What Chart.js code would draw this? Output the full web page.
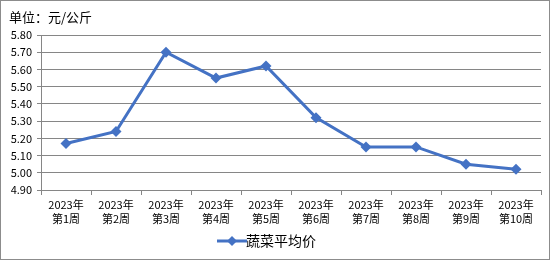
<!DOCTYPE html>
<html><head><meta charset="utf-8">
<script src="https://cdn.jsdelivr.net/npm/chart.js@4/dist/chart.umd.min.js"></script>
<style>html,body{margin:0;padding:0;background:#fff}#c{display:block}</style>
</head><body>
<div style="width:550px;height:260px;position:relative"><canvas id="c" width="550" height="260"></canvas></div>
<script>
const categories = ['第1周','第2周','第3周','第4周','第5周','第6周','第7周','第8周','第9周','第10周'];
const yearLabel = '2023年';
const seriesName = '蔬菜平均价';
const values = [5.17, 5.24, 5.70, 5.55, 5.62, 5.32, 5.15, 5.15, 5.05, 5.02];
const yTicks = [4.90, 5.00, 5.10, 5.20, 5.30, 5.40, 5.50, 5.60, 5.70, 5.80];
const unitTitle = '单位：元/公斤';

const blue = '#4472C4';
const grid = '#868686';
const FONT = '"Noto Sans CJK SC", "Liberation Sans", sans-serif';

function legendIcon(){
  const c = document.createElement('canvas');
  c.width = 32; c.height = 12;
  const g = c.getContext('2d');
  g.strokeStyle = blue; g.lineWidth = 3;
  g.beginPath(); g.moveTo(1,6); g.lineTo(31,6); g.stroke();
  g.fillStyle = blue;
  g.beginPath(); g.moveTo(16,1); g.lineTo(21,6); g.lineTo(16,11); g.lineTo(11,6); g.closePath(); g.fill();
  return c;
}

const decor = {
  id:'decor',
  beforeDraw(chart){
    const ctx = chart.ctx;
    ctx.save();
    ctx.fillStyle='#fff'; ctx.fillRect(0,0,chart.width,chart.height);
    ctx.strokeStyle='#8c8c8c'; ctx.lineWidth=1;
    ctx.strokeRect(0.5,0.5,chart.width-1,chart.height-1);
    ctx.fillStyle='#000'; ctx.font='13px '+FONT; ctx.textBaseline='middle'; ctx.textAlign='left';
    ctx.fillText(unitTitle, 9, 17);
    ctx.restore();
  }
};

new Chart(document.getElementById('c'), {
  type:'line',
  data:{
    labels: categories.map(w => [yearLabel, w]),
    datasets:[{
      label: seriesName,
      data: values,
      borderColor: blue,
      backgroundColor: blue,
      borderWidth: 3,
      pointStyle: 'rectRot',
      pointRadius: 5.5,
      pointHoverRadius: 5.5,
      pointBackgroundColor: blue,
      pointBorderColor: blue,
      pointBorderWidth: 0,
      tension: 0
    }]
  },
  options:{
    responsive:false,
    animation:false,
    devicePixelRatio:1,
    layout:{padding:{left:0,right:9,top:35,bottom:2}},
    plugins:{
      tooltip:{enabled:false},
      title:{display:false},
      legend:{
        display:true, position:'bottom',
        labels:{
          usePointStyle:true,
          pointStyle: legendIcon(),
          color:'#000',
          font:{family:FONT,size:14},
          padding:6
        }
      }
    },
    scales:{
      x:{
        offset:true,
        grid:{offset:true, drawOnChartArea:false, drawTicks:true, tickLength:5, color:grid},
        border:{color:grid, width:1},
        ticks:{color:'#000', font:{family:FONT,size:11, lineHeight:1.27}, padding:3, maxRotation:0, autoSkip:false},
        afterFit(s){ s.height = 38; }
      },
      y:{
        min:4.9, max:5.8,
        grid:{color:grid, tickLength:4, lineWidth:1},
        border:{color:grid, width:1},
        afterBuildTicks(s){ s.ticks = yTicks.map(v=>({value:v})); },
        ticks:{color:'#000', font:{family:FONT,size:11}, padding:5, callback:v=>Number(v).toFixed(2)},
        afterFit(s){ s.width = 41; }
      }
    }
  },
  plugins:[decor]
});
</script>
</body></html>
